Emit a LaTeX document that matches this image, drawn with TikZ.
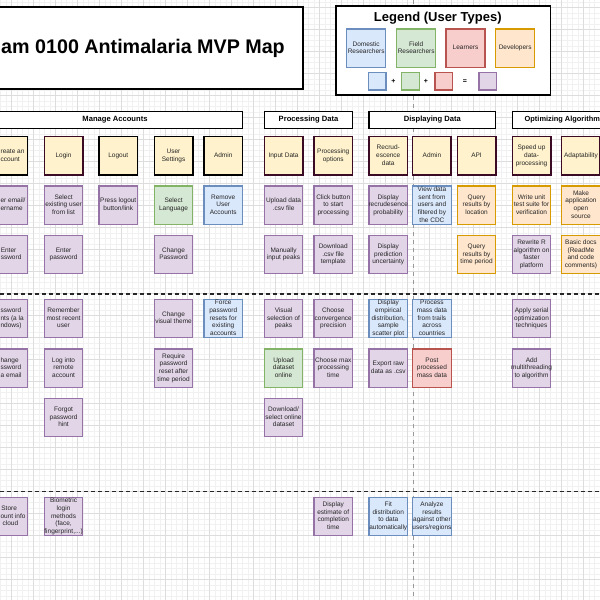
\documentclass[tikz,border=0pt]{standalone}
\usepackage{fontspec}
\setmainfont{Liberation Sans}
\definecolor{pfill}{HTML}{E1D5E7}\definecolor{pdraw}{HTML}{9673A6}
\definecolor{gfill}{HTML}{D5E8D4}\definecolor{gdraw}{HTML}{82B366}
\definecolor{bfill}{HTML}{DAE8FC}\definecolor{bdraw}{HTML}{6C8EBF}
\definecolor{rfill}{HTML}{F8CECC}\definecolor{rdraw}{HTML}{B85450}
\definecolor{ofill}{HTML}{FFE6CC}\definecolor{odraw}{HTML}{D79B00}
\definecolor{yfill}{HTML}{FFF2CC}\definecolor{maroon}{HTML}{3B0A24}
\definecolor{gridmin}{HTML}{F1F1F1}\definecolor{gridmaj}{HTML}{DDDDDD}
\newcommand{\tx}[1]{\makebox[30pt]{\begin{tabular}{@{}c@{}}#1\end{tabular}}}
\newcommand{\lx}[1]{\begin{tabular}{@{}l@{}}#1\end{tabular}}
\tikzset{
  cell/.style={rectangle, minimum width=38.5pt, minimum height=38.5pt, inner sep=0pt,
    font=\fontsize{6.5}{7.7}\selectfont, text=black!85},
  hdr/.style={cell, fill=yfill, draw=maroon, line width=1.5pt},
  hdrk/.style={hdr, draw=black},
  pbox/.style={cell, fill=pfill, draw=pdraw, line width=1.2pt},
  gbox/.style={cell, fill=gfill, draw=gdraw, line width=1.2pt},
  bbox/.style={cell, fill=bfill, draw=bdraw, line width=1.2pt},
  rbox/.style={cell, fill=rfill, draw=rdraw, line width=1.2pt},
  obox/.style={cell, fill=ofill, draw=odraw, line width=1.2pt},
  frag/.style={anchor=west, inner sep=0pt, font=\fontsize{6.5}{7.7}\selectfont, text=black!85},
  sect/.style={rectangle, draw=black, line width=1.5pt, fill=white, inner sep=0pt,
    minimum height=16.6pt, font=\bfseries\fontsize{7.6}{9}\selectfont},
  sepline/.style={draw=black!85, line width=1.3pt, dash pattern=on 4pt off 3pt},
  vline/.style={draw=black!40, line width=1pt, dash pattern=on 4pt off 4pt},
  minorgrid/.style={draw=gridmin, line width=0.5pt},
  majorgrid/.style={draw=gridmaj, line width=0.7pt},
  sq/.style={rectangle, minimum width=17.3pt, minimum height=17.3pt, inner sep=0pt, line width=1.2pt},
  sym/.style={font=\bfseries\fontsize{7}{8}\selectfont, inner sep=0pt},
}
\begin{document}
\begin{tikzpicture}[x=1pt,y=-1pt]
\useasboundingbox (0,0) rectangle (600,600);
\clip (0,0) rectangle (600,600);
\fill[white] (0,0) rectangle (600,600);
% grid
\foreach \i in {0,...,109} {
  \draw[minorgrid] ({0.7+5.5*\i},0) -- ({0.7+5.5*\i},600);
  \draw[minorgrid] (0,{1.8+5.5*\i}) -- (600,{1.8+5.5*\i});
}
\foreach \i in {0,...,27} {
  \draw[majorgrid] ({11.7+22*\i},0) -- ({11.7+22*\i},600);
  \draw[majorgrid] (0,{7.3+22*\i}) -- (600,{7.3+22*\i});
}
% vertical gray dashed line
\coordinate (vt) at (413.3,0); \coordinate (vb) at (413.3,600);
\draw[vline] (vt) -- (vb);
% horizontal dashed separators
\coordinate (s1l) at (0,294); \coordinate (s1r) at (600,294);
\coordinate (s2l) at (0,491.7); \coordinate (s2r) at (600,491.7);
\draw[sepline] (s1l) -- (s1r);
\draw[sepline] (s2l) -- (s2r);

% title
\node[draw=black, line width=1.8pt, fill=white, minimum width=343.3pt, minimum height=82pt, inner sep=0pt] (title) at (131.65,48.3) {};
\node[anchor=east, inner sep=0pt, font=\bfseries\fontsize{19.7}{22}\selectfont] (titletext) at (285,48.3) {am 0100 Antimalaria MVP Map};

% legend
\node[draw=black, line width=1.5pt, fill=white, minimum width=214.7pt, minimum height=89pt, inner sep=0pt] (legend) at (443.35,50.5) {};
\node[font=\bfseries\fontsize{13}{15}\selectfont, inner sep=0pt] (legtitle) at (437.8,18.3) {Legend (User Types)};
\node[bbox, minimum width=39pt, minimum height=38.7pt] (ldom) at (366.2,48.35) {\tx{Domestic\\Researchers}};
\node[gbox, minimum width=39pt, minimum height=38.7pt] (lfield) at (416.2,48.35) {\tx{Field\\Researchers}};
\node[rbox, minimum width=39pt, minimum height=38.7pt] (llearn) at (465.5,48.35) {\tx{Learners}};
\node[obox, minimum width=39pt, minimum height=38.7pt] (ldev) at (515.2,48.35) {\tx{Developers}};
\node[sq, fill=bfill, draw=bdraw] (sqb) at (377.35,81.35) {};
\node[sq, fill=gfill, draw=gdraw] (sqg) at (410.5,81.35) {};
\node[sq, fill=rfill, draw=rdraw] (sqr) at (443.65,81.35) {};
\node[sq, fill=pfill, draw=pdraw] (sqp) at (487.65,81.35) {};
\node[sym] (plus1) at (393.3,81.7) {+};
\node[sym] (plus2) at (426,81.7) {+};
\node[sym] (eq) at (465,81.7) {=};

% section headers
\node[sect, minimum width=255.4pt] (secma) at (115,120) {Manage Accounts};
\node[sect, minimum width=88.4pt] (secpd) at (308.5,120) {Processing Data};
\node[sect, minimum width=126.7pt] (secdd) at (432.35,120) {Displaying Data};
\node[sect, minimum width=126.7pt] (secoa) at (575.65,120) {};
\node[anchor=west, inner sep=0pt, font=\bfseries\fontsize{7.4}{9}\selectfont] (secoatext) at (524.5,120) {Optimizing Algorithm};

% header row
\node[hdrk] (h0) at (8.45,155.95) {};
\node[frag] (h0t) at (0.4,155.95) {\lx{reate an\\ccount}};
\node[hdr] (h1) at (63.55,155.95) {\tx{Login}};
\node[hdrk] (h2) at (118.25,155.95) {\tx{Logout}};
\node[hdrk] (h3) at (173.55,155.95) {\tx{User\\Settings}};
\node[hdrk] (h4) at (223.25,155.95) {\tx{Admin}};
\node[hdr] (h5) at (283.55,155.95) {\tx{Input Data}};
\node[hdr] (h6) at (333.25,155.95) {\tx{Processing\\options}};
\node[hdr] (h7) at (388.25,155.95) {\tx{Recrud-\\escence\\data}};
\node[hdr] (h8) at (431.95,155.95) {\tx{Admin}};
\node[hdr] (h9) at (476.55,155.95) {\tx{API}};
\node[hdr] (h10) at (531.55,155.95) {\tx{Speed up\\data-\\processing}};
\node[hdr] (h11) at (580.95,155.95) {\tx{Adaptability}};

% column 0 (cut off at the left edge)
\node[pbox] (c0r1) at (8.45,205.25) {};
\node[frag] (c0r1t) at (0.4,205.25) {\lx{er email/\\ername}};
\node[pbox] (c0r2) at (8.45,254.55) {};
\node[frag] (c0r2t) at (0.6,254.55) {\lx{Enter\\ssword}};
\node[pbox] (c0r3) at (8.45,318.55) {};
\node[frag] (c0r3t) at (0.4,318.55) {\lx{ssword\\nts (a la\\ndows)}};
\node[pbox] (c0r4) at (8.45,368.25) {};
\node[frag] (c0r4t) at (0.4,368.25) {\lx{hange\\ssword\\a email}};
\node[pbox] (c0r6) at (8.45,516.55) {};
\node[frag] (c0r6t) at (0.4,516.55) {\lx{\hspace{0.8pt}Store\\ount info\\\hspace{2pt}cloud}};
% column 1
\node[pbox] (c1r1) at (63.55,205.25) {\tx{Select\\existing user\\from list}};
\node[pbox] (c1r2) at (63.55,254.55) {\tx{Enter\\password}};
\node[pbox] (c1r3) at (63.55,318.55) {\tx{Remember\\most recent\\user}};
\node[pbox] (c1r4) at (63.55,368.25) {\tx{Log into\\remote\\account}};
\node[pbox] (c1r5) at (63.55,417.55) {\tx{Forgot\\password\\hint}};
\node[pbox] (c1r6) at (63.55,516.55) {\tx{Biometric\\login\\methods\\(face,\\fingerprint,...)}};
% column 2
\node[pbox] (c2r1) at (118.25,205.25) {\tx{Press logout\\button/link}};
% column 3
\node[gbox] (c3r1) at (173.55,205.25) {\tx{Select\\Language}};
\node[pbox] (c3r2) at (173.55,254.55) {\tx{Change\\Password}};
\node[pbox] (c3r3) at (173.55,318.55) {\tx{Change\\visual theme}};
\node[pbox] (c3r4) at (173.55,368.25) {\tx{Require\\password\\reset after\\time period}};
% column 4
\node[bbox] (c4r1) at (223.25,205.25) {\tx{Remove\\User\\Accounts}};
\node[bbox] (c4r3) at (223.25,318.55) {\tx{Force\\password\\resets for\\existing\\accounts}};
% column 5
\node[pbox] (c5r1) at (283.55,205.25) {\tx{Upload data\\.csv file}};
\node[pbox] (c5r2) at (283.55,254.55) {\tx{Manually\\input peaks}};
\node[pbox] (c5r3) at (283.55,318.55) {\tx{Visual\\selection of\\peaks}};
\node[gbox] (c5r4) at (283.55,368.25) {\tx{Upload\\dataset\\online}};
\node[pbox] (c5r5) at (283.55,417.55) {\tx{Download/\\select online\\dataset}};
% column 6
\node[pbox] (c6r1) at (333.25,205.25) {\tx{Click button\\to start\\processing}};
\node[pbox] (c6r2) at (333.25,254.55) {\tx{Download\\.csv file\\template}};
\node[pbox] (c6r3) at (333.25,318.55) {\tx{Choose\\convergence\\precision}};
\node[pbox] (c6r4) at (333.25,368.25) {\tx{Choose max\\processing\\time}};
\node[pbox] (c6r6) at (333.25,516.55) {\tx{Display\\estimate of\\completion\\time}};
% column 7
\node[pbox] (c7r1) at (388.25,205.25) {\tx{Display\\recrudesence\\probability}};
\node[pbox] (c7r2) at (388.25,254.55) {\tx{Display\\prediction\\uncertainty}};
\node[bbox] (c7r3) at (388.25,318.55) {\tx{Display\\empirical\\distribution,\\sample\\scatter plot}};
\node[pbox] (c7r4) at (388.25,368.25) {\tx{Export raw\\data as .csv}};
\node[bbox] (c7r6) at (388.25,516.55) {\tx{Fit\\distribution\\to data\\automatically}};
% column 8
\node[bbox] (c8r1) at (431.95,205.25) {\tx{View data\\sent from\\users and\\filtered by\\the CDC}};
\node[bbox] (c8r3) at (431.95,318.55) {\tx{Process\\mass data\\from trails\\across\\countries}};
\node[rbox] (c8r4) at (431.95,368.25) {\tx{Post\\processed\\mass data}};
\node[bbox] (c8r6) at (431.95,516.55) {\tx{Analyze\\results\\against other\\users/regions}};
% column 9
\node[obox] (c9r1) at (476.55,205.25) {\tx{Query\\results by\\location}};
\node[obox] (c9r2) at (476.55,254.55) {\tx{Query\\results by\\time period}};
% column 10
\node[obox] (c10r1) at (531.55,205.25) {\tx{Write unit\\test suite for\\verification}};
\node[pbox] (c10r2) at (531.55,254.55) {\tx{Rewrite R\\algorithm on\\faster\\platform}};
\node[pbox] (c10r3) at (531.55,318.55) {\tx{Apply serial\\optimization\\techniques}};
\node[pbox] (c10r4) at (531.55,368.25) {\tx{Add\\multithreading\\to algorithm}};
% column 11
\node[obox] (c11r1) at (580.95,205.25) {\tx{Make\\application\\open\\source}};
\node[obox] (c11r2) at (580.95,254.55) {\tx{Basic docs\\(ReadMe\\and code\\comments)}};
\end{tikzpicture}
\end{document}
